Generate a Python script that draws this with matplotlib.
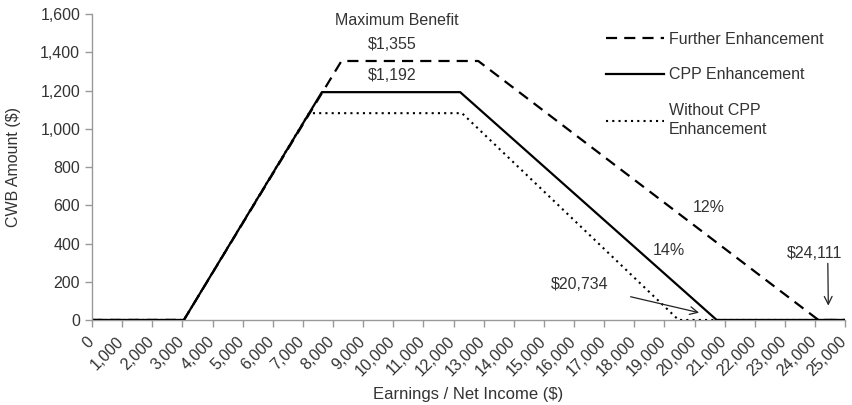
import matplotlib.pyplot as plt
from matplotlib.ticker import FuncFormatter, MultipleLocator
from matplotlib.transforms import ScaledTranslation

plt.rcParams['font.family'] = ['Liberation Sans', 'DejaVu Sans']
plt.rcParams['font.size'] = 11.5

# breakpoints (earnings, benefit)
further_x = [0, 3050, 8280, 12820, 24111, 25000]
further_y = [0, 0, 1355, 1355, 0, 0]
cpp_x = [0, 3050, 7630, 12220, 20734, 25000]
cpp_y = [0, 0, 1192, 1192, 0, 0]
without_x = [0, 3050, 7200, 12280, 19470, 25000]
without_y = [0, 0, 1082, 1082, 0, 0]

txt = '#333333'
grey = '#999999'
fs = 11.5

fig = plt.figure(figsize=(8.52, 4.05), dpi=100)
ax = fig.add_axes([0.108, 0.21, 0.884, 0.755])

ax.plot(further_x, further_y, color='black', lw=1.6, dashes=(5, 3.2), label='Further Enhancement')
ax.plot(cpp_x, cpp_y, color='black', lw=1.6, label='CPP Enhancement')
ax.plot(without_x, without_y, color='black', lw=1.5, ls=(0, (1, 2)), label='Without CPP\nEnhancement')

ax.set_xlim(0, 25000)
ax.set_ylim(0, 1600)
ax.xaxis.set_major_locator(MultipleLocator(1000))
ax.yaxis.set_major_locator(MultipleLocator(200))
fmt = FuncFormatter(lambda v, p: f'{int(v):,}')
ax.xaxis.set_major_formatter(fmt)
ax.yaxis.set_major_formatter(fmt)
ax.tick_params(colors=grey, labelcolor=txt, labelsize=fs, length=5, width=1)
ax.tick_params(axis='x', pad=5)
shift = ScaledTranslation(-6 / 100, 0, fig.dpi_scale_trans)
for lbl in ax.get_xticklabels():
    lbl.set_rotation(45)
    lbl.set_ha('right')
    lbl.set_va('top')
    lbl.set_rotation_mode('anchor')
    lbl.set_transform(lbl.get_transform() + shift)
for s in ['top', 'right']:
    ax.spines[s].set_visible(False)
for s in ['left', 'bottom']:
    ax.spines[s].set_color(grey)
    ax.spines[s].set_linewidth(1)
ax.spines['bottom'].set_zorder(0)

ax.set_xlabel('Earnings / Net Income ($)', color=txt, fontsize=12, labelpad=6)
ax.set_ylabel('CWB Amount ($)', color=txt, fontsize=fs, labelpad=14)

ax.text(10130, 1569, 'Maximum Benefit', ha='center', va='center', color=txt, fontsize=fs)
ax.text(9970, 1443, '$1,355', ha='center', va='center', color=txt, fontsize=fs)
ax.text(9970, 1281, '$1,192', ha='center', va='center', color=txt, fontsize=fs)
ax.text(20460, 591, '12%', ha='center', va='center', color=txt, fontsize=fs)
ax.text(19140, 366, '14%', ha='center', va='center', color=txt, fontsize=fs)
ax.annotate('$20,734', xy=(20150, 38), xytext=(16200, 183), ha='center', va='center',
            color=txt, fontsize=fs,
            arrowprops=dict(arrowstyle='->', color='#222222', lw=0.9, shrinkA=14, shrinkB=0,
                            mutation_scale=14))
ax.annotate('$24,111', xy=(24440, 75), xytext=(24000, 350), ha='center', va='center',
            color=txt, fontsize=fs,
            arrowprops=dict(arrowstyle='->', color='#222222', lw=0.9, shrinkA=0, shrinkB=0,
                            mutation_scale=14, relpos=(0.73, 0.0)))

leg = ax.legend(loc='upper left', bbox_to_anchor=(0.664, 0.99), frameon=False,
                handlelength=3.6, handletextpad=0.3, labelspacing=1.3, fontsize=fs)
for t in leg.get_texts():
    t.set_color(txt)
    t.set_linespacing(1.35)

fig.savefig('out.png', dpi=100)
